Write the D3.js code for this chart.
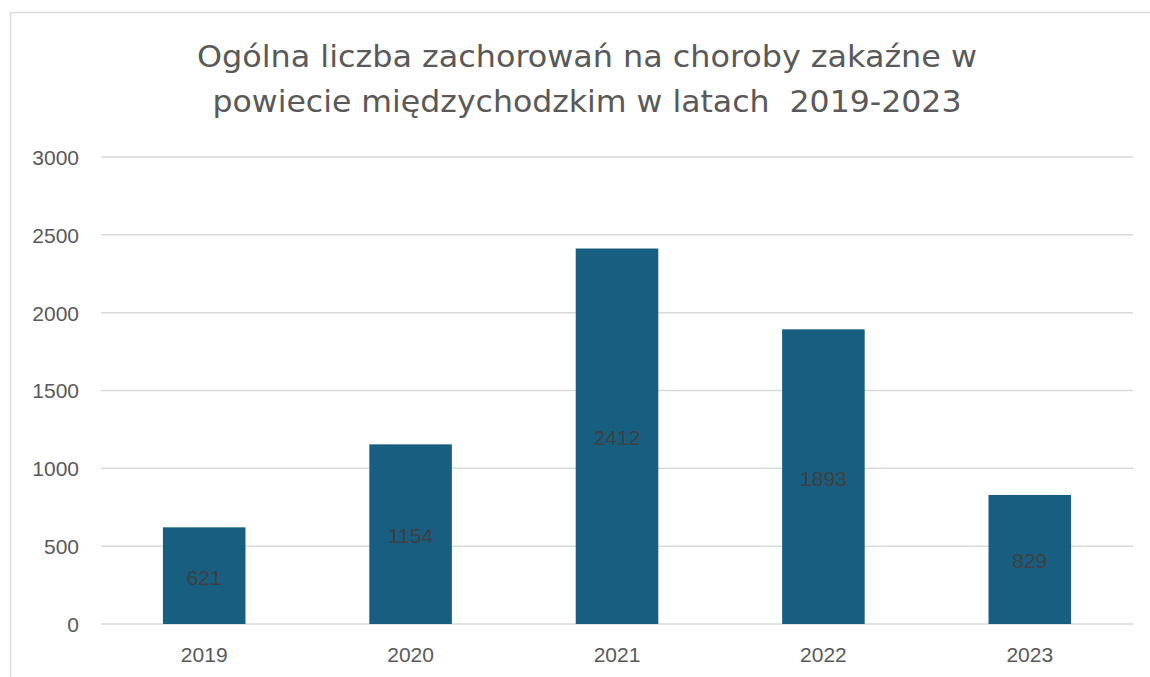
<!DOCTYPE html>
<html><head><meta charset="utf-8">
<script src="https://cdn.jsdelivr.net/npm/d3@7"></script>
<style>body{margin:0;background:#fff}svg{display:block}</style>
</head><body>
<svg id="c" width="1150" height="677"></svg>
<script>
const categories = ["2019","2020","2021","2022","2023"];
const values = [621,1154,2412,1893,829];
const yTicks = [0,500,1000,1500,2000,2500,3000];
const titleLines = ["Ogólna liczba zachorowań na choroby zakaźne w","powiecie międzychodzkim w latach  2019-2023"];

const svg = d3.select("#c");
svg.append("rect").attr("x",10.5).attr("y",12.5).attr("width",1160).attr("height",700)
  .attr("fill","#fff").attr("stroke","#d9d9d9").attr("stroke-width",1.5);

const x = d3.scaleBand().domain(categories).range([101,1133]).paddingInner(0.6).paddingOuter(0.3);
const y = d3.scaleLinear().domain([0,3000]).range([624,157]);

const grid = svg.append("g");
grid.selectAll("line").data(yTicks).join("line")
  .attr("x1",101).attr("x2",1133).attr("y1",d=>y(d)).attr("y2",d=>y(d))
  .attr("stroke","#d9d9d9").attr("stroke-width",1.5);

const font = "'Liberation Sans',Arial,sans-serif";
const yAxis = d3.axisLeft(y).tickValues(yTicks).tickFormat(d3.format("d")).tickSize(0).tickPadding(0);
const ya = svg.append("g").attr("transform","translate(79,0)").call(yAxis);
ya.select(".domain").remove();
ya.selectAll("text").attr("font-family",font).attr("font-size",21).attr("fill","#595959").attr("dy","0.35em");

const xAxis = d3.axisBottom(x).tickSize(0).tickPadding(0);
const xa = svg.append("g").attr("transform","translate(0,655)").call(xAxis);
xa.select(".domain").remove();
xa.selectAll("text").attr("font-family",font).attr("font-size",21).attr("fill","#595959").attr("dy","0.35em");

svg.append("g").selectAll("rect").data(values).join("rect")
  .attr("x",(d,i)=>x(categories[i])).attr("width",x.bandwidth())
  .attr("y",d=>y(d)).attr("height",d=>y(0)-y(d)).attr("fill","#175e80");

svg.append("g").selectAll("text").data(values).join("text")
  .attr("x",(d,i)=>x(categories[i])+x.bandwidth()/2)
  .attr("y",d=>(y(d)+y(0))/2+1.5).attr("dy","0.35em").attr("text-anchor","middle")
  .attr("font-family",font).attr("font-size",21).attr("fill","#404040")
  .text(d=>d);

const titleWidths = [780,749];
const t = svg.append("g");
t.selectAll("text").data(titleLines).join("text")
  .attr("x",587).attr("y",(d,i)=>67+i*45).attr("text-anchor","middle")
  .style("white-space","pre")
  .attr("textLength",(d,i)=>titleWidths[i]).attr("lengthAdjust","spacingAndGlyphs")
  .attr("font-family","'Liberation Sans Narrow','DejaVu Sans Condensed',sans-serif").attr("font-size",31).attr("fill","#595959")
  .text(d=>d);
</script>
</body></html>
